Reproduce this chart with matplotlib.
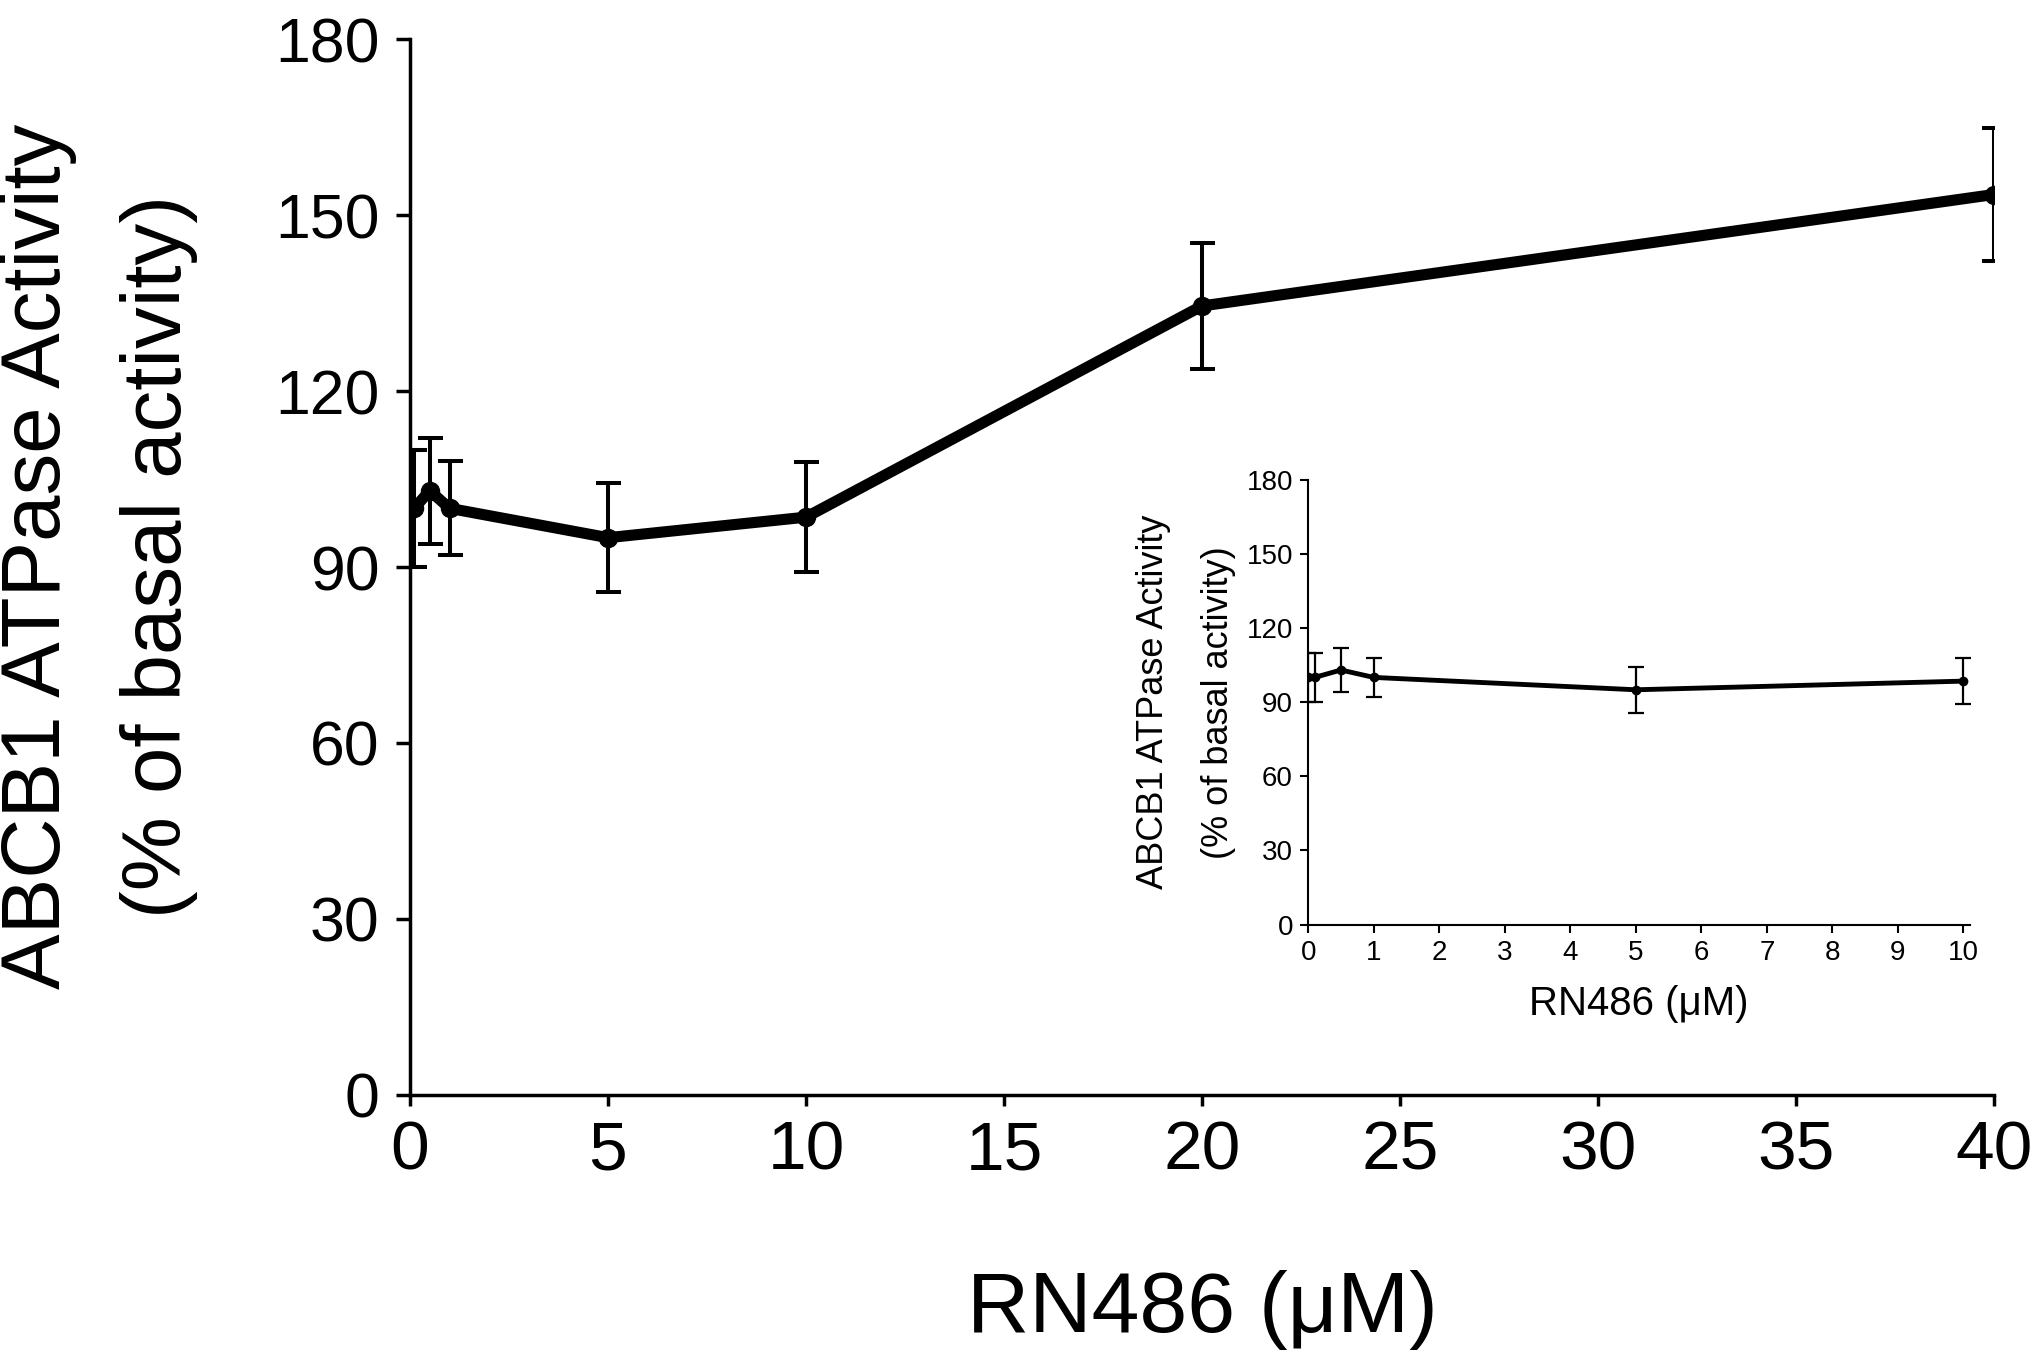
import matplotlib
matplotlib.use("Agg")
import matplotlib.pyplot as plt

# RN486 concentration (uM) and ATPase activity (% of basal)
conc = [0, 0.1, 0.5, 1, 5, 10, 20, 40]
activity = [100, 100, 103, 100, 95, 98.5, 134.5, 153.5]
sem = [10, 10, 9, 8, 9.3, 9.4, 10.7, 11.3]

inset_conc = conc[:6]
inset_activity = activity[:6]
inset_sem = sem[:6]

main_xticks = [0, 5, 10, 15, 20, 25, 30, 35, 40]
inset_xticks = list(range(0, 11))
yticks = [0, 30, 60, 90, 120, 150, 180]

plt.rcParams['font.family'] = ['Liberation Sans', 'DejaVu Sans']

fig = plt.figure(figsize=(20.44, 13.56), dpi=100)

# main plot
ax = fig.add_axes([0.2006, 0.1925, 0.7749, 0.7787])
ax.errorbar(conc, activity, yerr=sem, color='black', lw=8, marker='o', ms=13,
            elinewidth=2.9, capsize=9, capthick=2.9)
ax.set_xlim(0, 40)
ax.set_ylim(0, 180)
ax.set_xticks(main_xticks)
ax.set_yticks(yticks)
ax.spines['top'].set_visible(False)
ax.spines['right'].set_visible(False)
for s in ['left', 'bottom']:
    ax.spines[s].set_linewidth(2.5)
ax.tick_params(axis='y', direction='out', length=10, width=2.5, labelsize=45, pad=12)
ax.tick_params(axis='x', direction='out', length=8, width=2.5, labelsize=50, pad=10)
ax.set_xlabel('RN486 (μM)', fontsize=62, labelpad=62)
ax.set_ylabel('ABCB1 ATPase Activity\n(% of basal activity)', fontsize=60, linespacing=1.7)
ax.yaxis.set_label_coords(-0.134, 0.51)

# inset
ins = fig.add_axes([0.640, 0.3181, 0.3238, 0.3282])
ins.errorbar(inset_conc, inset_activity, yerr=inset_sem, color='black', lw=3.5, marker='o', ms=6,
             elinewidth=1.6, capsize=6, capthick=1.6)
ins.set_xlim(0, 10.1)
ins.set_ylim(0, 180)
ins.set_xticks(inset_xticks)
ins.set_yticks(yticks)
ins.spines['top'].set_visible(False)
ins.spines['right'].set_visible(False)
for s in ['left', 'bottom']:
    ins.spines[s].set_linewidth(1.5)
ins.tick_params(axis='both', direction='out', length=6, width=1.5, labelsize=20, pad=5)
ins.set_xlabel('RN486 (μM)', fontsize=29, labelpad=14)
ins.set_ylabel('ABCB1 ATPase Activity\n(% of basal activity)', fontsize=26, linespacing=2.1)
ins.yaxis.set_label_coords(-0.109, 0.5)

fig.savefig('out.png', dpi=100, facecolor='white')
